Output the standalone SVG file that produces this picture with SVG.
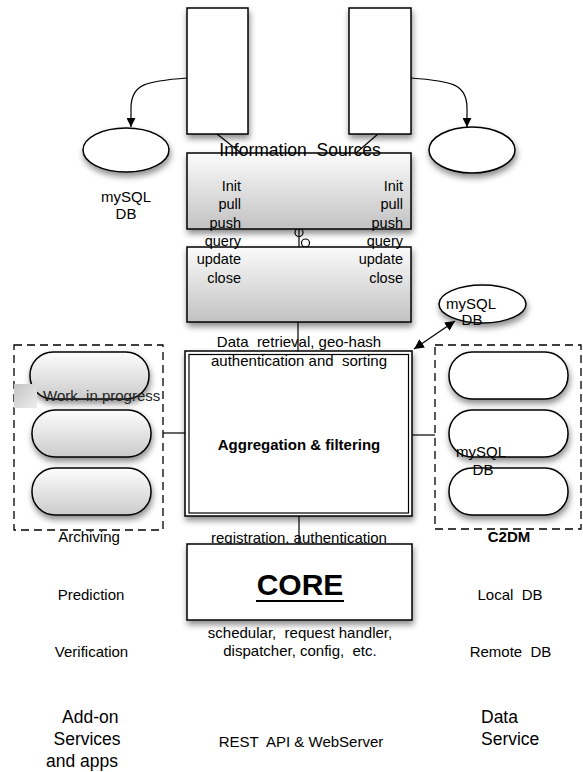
<svg xmlns="http://www.w3.org/2000/svg" width="583" height="772" viewBox="0 0 583 772">
<defs>
  <filter id="sh" x="-20%" y="-20%" width="150%" height="160%">
    <feDropShadow dx="1" dy="4" stdDeviation="3" flood-color="#000" flood-opacity="0.45"/>
  </filter>
  <linearGradient id="boxGrad" x1="0" y1="0" x2="0" y2="1">
    <stop offset="0" stop-color="#fbfbfb"/>
    <stop offset="1" stop-color="#c2c2c2"/>
  </linearGradient>
  <linearGradient id="pillGrad" x1="0" y1="0" x2="0" y2="1">
    <stop offset="0" stop-color="#fdfdfd"/>
    <stop offset="1" stop-color="#cbcbcb"/>
  </linearGradient>
  <linearGradient id="wipGrad" x1="0" y1="0" x2="1" y2="1">
    <stop offset="0" stop-color="#c4c4c4"/>
    <stop offset="1" stop-color="#ececec"/>
  </linearGradient>
  <marker id="arr" viewBox="0 0 10 10" refX="10" refY="5" markerWidth="9" markerHeight="9" markerUnits="userSpaceOnUse" orient="auto-start-reverse">
    <path d="M0,0 L10,5 L0,10 Z" fill="#000"/>
  </marker>
  <marker id="arrS" viewBox="0 0 10 10" refX="10" refY="5" markerWidth="10" markerHeight="10" markerUnits="userSpaceOnUse" orient="auto-start-reverse">
    <path d="M0,0 L10,5 L0,10 Z" fill="#000"/>
  </marker>
</defs>
<style>
  text { font-family: "Liberation Sans", Arial, sans-serif; fill: #000; white-space: pre; }
  .t14 { font-size: 14.5px; }
  .t15 { font-size: 15px; }
  .t17 { font-size: 17.5px; }
  .b { font-weight: bold; }
  .mid { text-anchor: middle; }
  .end { text-anchor: end; }
  .node { stroke: #000; stroke-width: 1.5; }
  .line { stroke: #000; stroke-width: 1.2; fill: none; }
  .dash { stroke: #000; stroke-width: 1.3; fill: none; stroke-dasharray: 8 5; }
</style>

<!-- containers -->
<g id="archiving-group">
  <rect x="14" y="345" width="149" height="185" class="dash"/>
  <rect x="30" y="352" width="119" height="47" rx="23" ry="23" fill="url(#pillGrad)" class="node" filter="url(#sh)"/>
  <rect x="32" y="410" width="119" height="47" rx="23" ry="23" fill="url(#pillGrad)" class="node" filter="url(#sh)"/>
  <rect x="32" y="468" width="119" height="47" rx="23" ry="23" fill="url(#pillGrad)" class="node" filter="url(#sh)"/>
  <text x="89" y="542" class="t15 mid">Archiving</text>
</g>
<g id="work-in-progress">
  <rect x="14" y="384" width="23" height="24" fill="url(#wipGrad)"/>
  <text x="43" y="401" class="t15" style="fill:#222">Work  in progress</text>
</g>

<g id="c2dm-group">
  <rect x="435" y="345" width="146" height="184" class="dash"/>
  <rect x="449" y="352" width="119" height="47" rx="23" ry="23" fill="#fff" class="node" filter="url(#sh)"/>
  <rect x="449" y="410" width="119" height="47" rx="23" ry="23" fill="#fff" class="node" filter="url(#sh)"/>
  <rect x="449" y="468" width="119" height="47" rx="23" ry="23" fill="#fff" class="node" filter="url(#sh)"/>
  <text x="456" y="457" class="t15">mySQL</text>
  <text x="483" y="475" class="t15 mid">DB</text>
  <text x="509" y="542" class="t15 b mid">C2DM</text>
</g>

<!-- connectors -->
<g id="connectors">
  <path d="M187,78 C146,81 131,84 131,108 L131,127" class="line" marker-end="url(#arr)"/>
  <path d="M411,78 C452,81 467,84 467,108 L467,127" class="line" marker-end="url(#arr)"/>
  <line x1="217" y1="134" x2="241" y2="153" class="line"/>
  <line x1="378" y1="134" x2="356" y2="153" class="line"/>
  <line x1="299" y1="236.5" x2="299" y2="247" class="line"/>
  <circle cx="292.5" cy="221.5" r="4" fill="none" stroke="#000" stroke-width="1.2"/>
  <circle cx="299" cy="232.5" r="4" fill="none" stroke="#000" stroke-width="1.2"/>
  <line x1="299" y1="228.5" x2="299" y2="236.5" class="line"/>
  <circle cx="305.5" cy="243" r="4" fill="#fff" stroke="#000" stroke-width="1.2"/>
  <line x1="298" y1="322" x2="298" y2="352" class="line"/>
  <line x1="299" y1="516" x2="299" y2="544" class="line"/>
  <line x1="163" y1="433" x2="185" y2="433" class="line"/>
  <line x1="412" y1="435" x2="435" y2="435" class="line"/>
  <line x1="414" y1="349" x2="455" y2="321" class="line" marker-start="url(#arrS)" marker-end="url(#arrS)"/>
</g>

<!-- top sources -->
<g id="source-left">
  <rect x="187" y="8" width="61" height="126" fill="#fff" class="node" filter="url(#sh)"/>
</g>
<g id="source-right">
  <rect x="349" y="8" width="62" height="126" fill="#fff" class="node" filter="url(#sh)"/>
</g>
<g id="db-left">
  <ellipse cx="126" cy="150" rx="43" ry="22" fill="#fff" class="node" filter="url(#sh)"/>
  <text x="126" y="202" class="t15 mid">mySQL</text>
  <text x="126" y="219" class="t15 mid">DB</text>
</g>
<g id="db-right">
  <ellipse cx="472" cy="150" rx="43" ry="23" fill="#fff" class="node" filter="url(#sh)"/>
</g>

<!-- interface boxes -->
<g id="info-box-1">
  <rect x="187" y="153" width="224" height="76" fill="url(#boxGrad)" class="node" filter="url(#sh)"/>
</g>
<g id="info-box-2">
  <rect x="187" y="247" width="224" height="75" fill="url(#boxGrad)" class="node" filter="url(#sh)"/>
</g>
<g id="info-labels">
  <text x="300" y="156" class="t17 mid">Information  Sources</text>
  <text x="241" y="190.7" class="t14 end">Init</text>
  <text x="241" y="209.1" class="t14 end">pull</text>
  <text x="241" y="227.5" class="t14 end">push</text>
  <text x="241" y="245.9" class="t14 end">query</text>
  <text x="241" y="264.3" class="t14 end">update</text>
  <text x="241" y="282.7" class="t14 end">close</text>
  <text x="403" y="190.7" class="t14 end">Init</text>
  <text x="403" y="209.1" class="t14 end">pull</text>
  <text x="403" y="227.5" class="t14 end">push</text>
  <text x="403" y="245.9" class="t14 end">query</text>
  <text x="403" y="264.3" class="t14 end">update</text>
  <text x="403" y="282.7" class="t14 end">close</text>
</g>

<g id="db-agg">
  <ellipse cx="482.5" cy="304" rx="43.5" ry="19" fill="#fff" class="node" filter="url(#sh)"/>
  <text x="446" y="308.5" class="t15">mySQL</text>
  <text x="472" y="325" class="t15 mid">DB</text>
</g>

<!-- aggregation -->
<g id="aggregation">
  <rect x="185" y="351" width="227" height="165" fill="#fff" class="node" filter="url(#sh)"/>
  <rect x="189" y="354.5" width="219.5" height="158.5" fill="none" stroke="#000" stroke-width="1.2"/>
  <text x="299" y="450" class="t15 b mid">Aggregation &amp; filtering</text>
</g>
<g id="aggregation-labels">
  <text x="299" y="347" class="t15 mid">Data  retrieval, geo-hash</text>
  <text x="299" y="366" class="t15 mid">authentication and  sorting</text>
  <text x="299" y="543" class="t15 mid">registration, authentication</text>
</g>

<!-- core -->
<g id="core">
  <rect x="187" y="544" width="225" height="76" fill="#fff" class="node" filter="url(#sh)"/>
  <text x="300" y="595" class="b mid" style="font-size:30px">CORE</text>
  <line x1="256" y1="601" x2="344" y2="601" stroke="#000" stroke-width="2.2"/>
</g>
<g id="core-labels">
  <text x="300" y="637.5" class="t15 mid">schedular,  request handler,</text>
  <text x="300" y="655.5" class="t15 mid">dispatcher, config,  etc.</text>
  <text x="301" y="747" class="t15 mid">REST  API &amp; WebServer</text>
</g>

<g id="addon-labels">
  <text x="91" y="599.5" class="t15 mid">Prediction</text>
  <text x="91.5" y="657" class="t15 mid">Verification</text>
  <text x="62" y="723" class="t17">Add-on</text>
  <text x="53.5" y="745" class="t17">Services</text>
  <text x="46" y="767" class="t17">and apps</text>
</g>
<g id="data-labels">
  <text x="510" y="599.5" class="t15 mid">Local  DB</text>
  <text x="510.5" y="657" class="t15 mid">Remote  DB</text>
  <text x="481" y="723" class="t17">Data</text>
  <text x="481" y="745" class="t17">Service</text>
</g>
</svg>
